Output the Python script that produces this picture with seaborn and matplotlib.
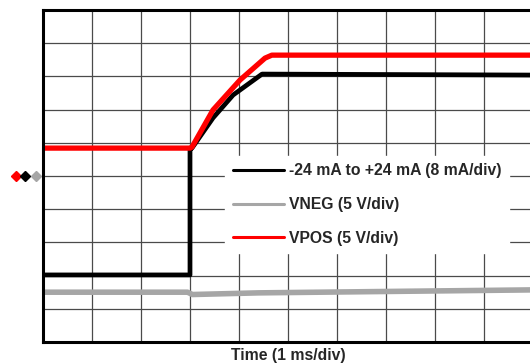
import matplotlib
matplotlib.use("Agg")
import matplotlib.pyplot as plt
import matplotlib.transforms as mtransforms
from matplotlib.lines import Line2D
import seaborn as sns
import pandas as pd

# screen values in divisions (10 x 10 graticule), time in ms (1 ms/div)
vpos_t = [0.0, 3.0, 3.04, 3.47, 4.02, 4.53, 4.67, 10.0]
vpos_div = [5.84, 5.84, 5.87, 6.99, 7.89, 8.55, 8.64, 8.64]

iout_t = [0.0, 3.0, 3.0, 3.04, 3.47, 3.88, 4.47, 10.0]
iout_div = [2.02, 2.02, 5.80, 5.84, 6.75, 7.44, 8.07, 8.04]

vneg_t = [0.0, 2.95, 3.05, 4.4, 10.0]
vneg_div = [1.50, 1.50, 1.43, 1.48, 1.57]

labels = ["-24 mA to +24 mA (8 mA/div)", "VNEG (5 V/div)", "VPOS (5 V/div)"]
colors = ["#000000", "#a6a6a6", "#ff0000"]
ground_div = 5.0

sns.set_style("white")
plt.rcParams["font.family"] = ["Liberation Sans", "DejaVu Sans"]

fig = plt.figure(figsize=(5.3, 3.64), dpi=100)
ax = fig.add_axes([43 / 530, 22 / 364, 490 / 530, 332 / 364])

sns.lineplot(x=vneg_t, y=vneg_div, color=colors[1], lw=4.0, estimator=None, sort=False, ax=ax)
sns.lineplot(x=iout_t, y=iout_div, color=colors[0], lw=3.4, estimator=None, sort=False, ax=ax)
sns.lineplot(x=vpos_t, y=vpos_div, color=colors[2], lw=3.8, estimator=None, sort=False, ax=ax)

ax.set_xlim(0, 10)
ax.set_ylim(0, 10)
ax.set_xticks(range(11))
ax.set_yticks(range(11))
ax.tick_params(length=0, labelbottom=False, labelleft=False)
ax.grid(True, color="#4a4a4a", lw=0.9)
ax.set_axisbelow(True)
for side in ["left", "bottom", "top"]:
    ax.spines[side].set_color("black")
    ax.spines[side].set_linewidth(2.2)
ax.spines["right"].set_visible(False)

ax.set_xlabel("Time (1 ms/div)", fontsize=11.3, fontweight="bold")
ax.xaxis.set_label_coords(0.5, -0.018, transform=ax.transAxes)
ax.xaxis.label.set_verticalalignment("top")

# ground reference markers left of the screen
trans = mtransforms.blended_transform_factory(ax.transAxes, ax.transData)
for xa, c in zip([-0.056, -0.036, -0.015], ["#ff0000", "#000000", "#a6a6a6"]):
    ax.plot(xa, ground_div, marker="D", ms=5.5, color=c, mec=c, transform=trans, clip_on=False)

handles = [Line2D([], [], color=c, lw=2.2) for c in colors]
leg = ax.legend(handles, labels, loc="upper left", bbox_to_anchor=(0.355, 0.585),
                frameon=True, facecolor="white", edgecolor="white", framealpha=1,
                fancybox=False, handlelength=3.25, handletextpad=0.32,
                labelspacing=1.18, borderpad=0.5,
                prop={"size": 11.3, "weight": "bold"})

fig.savefig("out.png", dpi=100)
